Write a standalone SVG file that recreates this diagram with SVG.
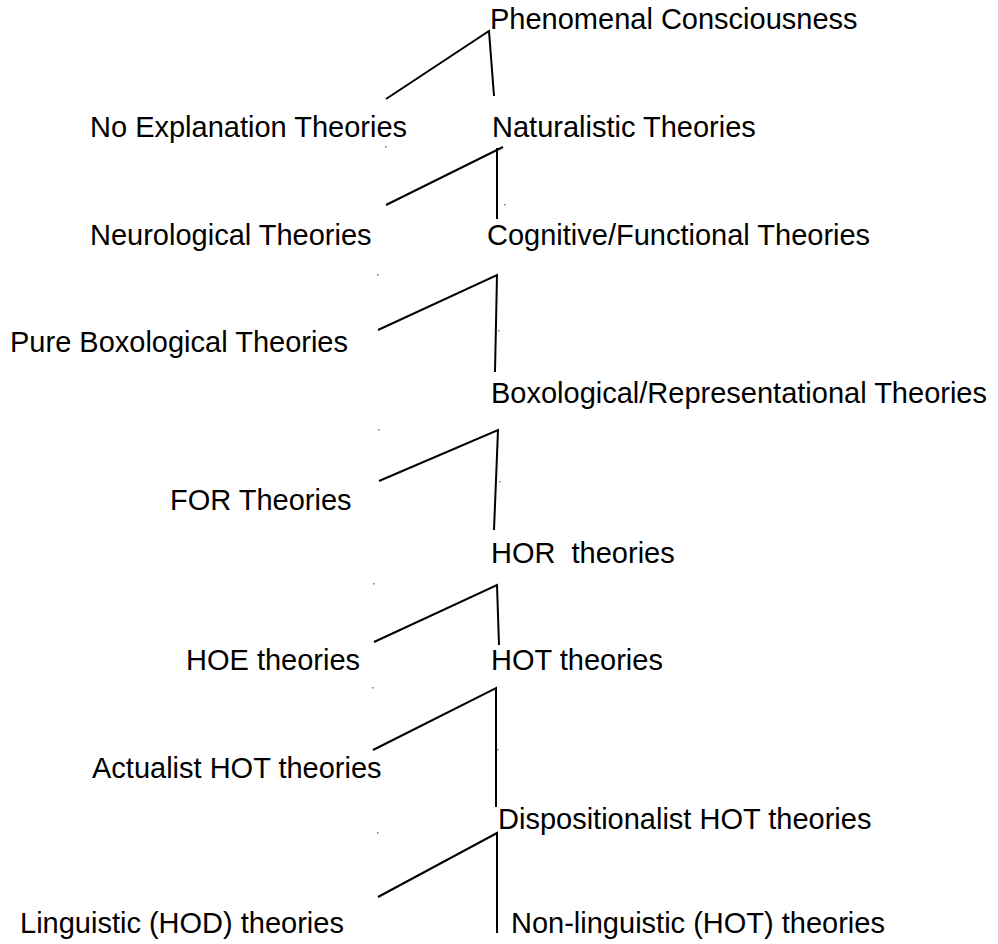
<svg xmlns="http://www.w3.org/2000/svg" width="998" height="944" viewBox="0 0 998 944">
  <style>
    .label { font-family: "Liberation Sans", Arial, sans-serif; font-size: 29px; fill: #000; }
    .edge { stroke: #000; stroke-width: 2; fill: none; stroke-linecap: butt; }
    .dot { fill: #777; }
  </style>
  <rect width="998" height="944" fill="#fff"/>

  <!-- Branch connectors -->
  <g id="connectors">
    <path class="edge" d="M386,99 L489,31 L494,96"/>
    <path class="edge" d="M386,205 L503,147 M497,148 L497,219"/>
    <path class="edge" d="M378,330 L497,275 L495,372"/>
    <path class="edge" d="M379,481 L498,430 L494,530"/>
    <path class="edge" d="M374,642 L497,585 L499,645"/>
    <path class="edge" d="M373,750 L496,688 L496,807"/>
    <path class="edge" d="M378,897 L497,833 L497,933"/>
  </g>

  <!-- Small anchor marks -->
  <g id="anchors">
    <rect class="dot" x="385" y="146" width="1.5" height="1.5"/>
    <rect class="dot" x="504" y="204" width="1.5" height="1.5"/>
    <rect class="dot" x="377" y="274" width="1.5" height="1.5"/>
    <rect class="dot" x="498" y="330" width="1.5" height="1.5"/>
    <rect class="dot" x="378" y="429" width="1.5" height="1.5"/>
    <rect class="dot" x="499" y="481" width="1.5" height="1.5"/>
    <rect class="dot" x="373" y="583" width="1.5" height="1.5"/>
    <rect class="dot" x="372" y="687" width="1.5" height="1.5"/>
    <rect class="dot" x="497" y="749" width="1.5" height="1.5"/>
    <rect class="dot" x="377" y="832" width="1.5" height="1.5"/>
  </g>

  <g id="phenomenal"><text class="label" x="490" y="29">Phenomenal Consciousness</text></g>
  <g id="no-explanation"><text class="label" x="90" y="137">No Explanation Theories</text></g>
  <g id="naturalistic"><text class="label" x="492" y="137">Naturalistic Theories</text></g>
  <g id="neurological"><text class="label" x="90" y="245">Neurological Theories</text></g>
  <g id="cognitive"><text class="label" x="487" y="245">Cognitive/Functional Theories</text></g>
  <g id="pure-boxological"><text class="label" x="10" y="352">Pure Boxological Theories</text></g>
  <g id="boxological-rep"><text class="label" x="491" y="403">Boxological/Representational Theories</text></g>
  <g id="for"><text class="label" x="170" y="510">FOR Theories</text></g>
  <g id="hor"><text class="label" x="491" y="563" xml:space="preserve">HOR  theories</text></g>
  <g id="hoe"><text class="label" x="186" y="670">HOE theories</text></g>
  <g id="hot"><text class="label" x="491" y="670">HOT theories</text></g>
  <g id="actualist"><text class="label" x="92" y="778">Actualist HOT theories</text></g>
  <g id="dispositionalist"><text class="label" x="498" y="829">Dispositionalist HOT theories</text></g>
  <g id="linguistic"><text class="label" x="20" y="933">Linguistic (HOD) theories</text></g>
  <g id="non-linguistic"><text class="label" x="511" y="933">Non-linguistic (HOT) theories</text></g>
</svg>
